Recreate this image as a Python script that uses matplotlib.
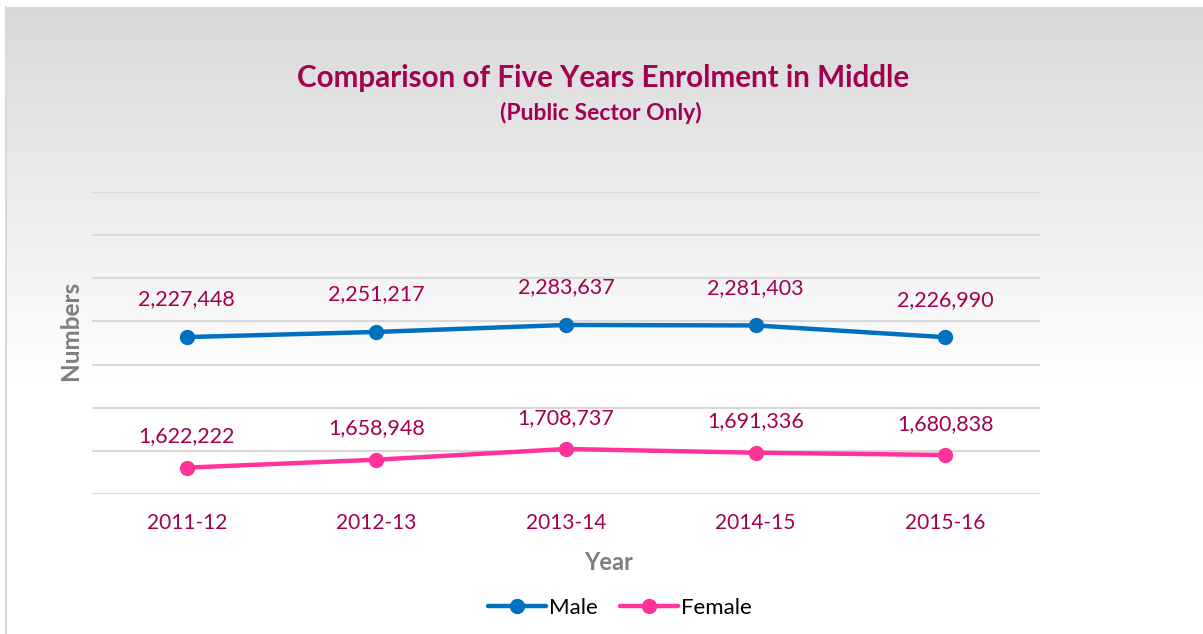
import numpy as np
import matplotlib.pyplot as plt
from matplotlib.lines import Line2D

# ---------- Data ----------
years = ["2011-12", "2012-13", "2013-14", "2014-15", "2015-16"]
male = [2227448, 2251217, 2283637, 2281403, 2226990]
female = [1622222, 1658948, 1708737, 1691336, 1680838]

CRIMSON = "#A3004F"
BLUE = "#0070C0"
PINK = "#FF3399"
GRAY = "#7F7F7F"

plt.rcParams["font.family"] = ["Lato", "DejaVu Sans"]

fig = plt.figure(figsize=(12.03, 6.34), dpi=100)
W, H = 1203, 634

# ---------- Gradient background (chart area) ----------
bg = fig.add_axes([6 / W, 0, 1 - 6 / W, 1 - 7 / H], zorder=0)
n = 400
frac = np.linspace(0, 1, n)
stop = 0.6
grad = np.where(frac < stop, frac / stop, 1.0)
c0 = np.array([0.85, 0.85, 0.85])
img = c0[None, :] + (1 - c0)[None, :] * grad[:, None]
bg.imshow(img[:, None, :], aspect="auto", extent=[0, 1, 0, 1], origin="upper")
bg.set_xlim(0, 1)
bg.set_ylim(0, 1)
bg.axis("off")
fig.add_artist(Line2D([6 / W, 6 / W], [0, 1 - 7 / H], color="#d9d9d9", lw=1.5))

# ---------- Main axes ----------
ax = fig.add_axes([92 / W, 1 - 494 / H, (1040 - 92) / W, (494 - 192) / H], zorder=1)
ax.patch.set_alpha(0)
x = np.arange(len(years))

ax.plot(x, male, color=BLUE, lw=3.2, marker="o", ms=10, solid_capstyle="round", label="Male")
ax.plot(x, female, color=PINK, lw=3.2, marker="o", ms=10, solid_capstyle="round", label="Female")

for xi, v in zip(x, male):
    ax.annotate(f"{v:,}", (xi, v), xytext=(0, 27), textcoords="offset points",
                ha="center", va="center", color=CRIMSON, fontsize=15.5)
for xi, v in zip(x, female):
    ax.annotate(f"{v:,}", (xi, v), xytext=(0, 22.5), textcoords="offset points",
                ha="center", va="center", color=CRIMSON, fontsize=15.5)

ax.set_xlim(-0.5, len(years) - 0.5)
ax.set_ylim(1500000, 2900000)
ax.set_yticks(np.arange(1500000, 2900001, 200000))
ax.set_yticklabels([])
ax.tick_params(axis="y", length=0)
ax.tick_params(axis="x", length=0, pad=14, labelsize=15, labelcolor=CRIMSON)
ax.set_xticks(x)
ax.set_xticklabels(years)
ax.grid(axis="y", color="#d9d9d9", lw=1.5)
ax.set_axisbelow(True)
for s in ax.spines.values():
    s.set_visible(False)

fig.text(609 / W, 1 - 562 / H, "Year", ha="center", va="center",
         fontsize=17, fontweight="bold", color=GRAY)
fig.text(70 / W, 1 - 330 / H, "Numbers", rotation=90, ha="center", va="center",
         fontsize=17.5, fontweight="bold", color=GRAY)

# ---------- Titles ----------
fig.text(603 / W, 1 - 78 / H, "Comparison of Five Years Enrolment in Middle",
         ha="center", va="center", fontsize=21.3, fontweight="bold", color=CRIMSON)
fig.text(601 / W, 1 - 113 / H, "(Public Sector Only)",
         ha="center", va="center", fontsize=16.5, fontweight="bold", color=CRIMSON)

# ---------- Legend ----------
fig.legend(loc="center", bbox_to_anchor=(620 / W, 1 - 608 / H), ncol=2, frameon=False,
           fontsize=16, handlelength=2.6, handletextpad=0.15, columnspacing=1.0)

fig.savefig("out.png", dpi=100)
